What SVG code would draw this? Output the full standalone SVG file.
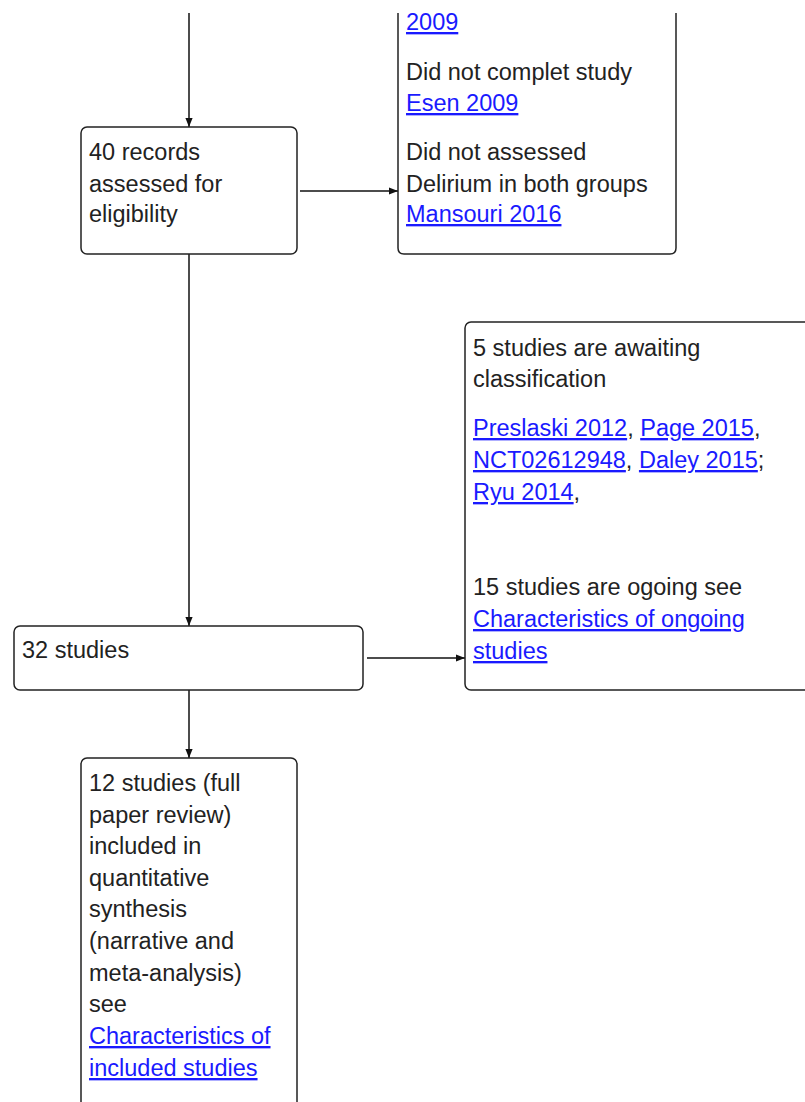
<svg xmlns="http://www.w3.org/2000/svg" width="805" height="1102" viewBox="0 0 805 1102">
<defs>
<style>
.box{fill:#fff;stroke:#222;stroke-width:1.5}
.t{font-family:"Liberation Sans",Arial,sans-serif;font-size:23.5px;fill:#222}
.l{fill:#1a1aff;text-decoration:underline}
.c{stroke:#111;stroke-width:1.5;fill:none}
</style>
<marker id="ah" viewBox="0 0 10 10" refX="10" refY="5" markerWidth="9" markerHeight="9" markerUnits="userSpaceOnUse" orient="auto">
<path d="M0,1 L10,5 L0,9 z" fill="#111"/>
</marker>
</defs>
<rect width="805" height="1102" fill="#fff"/>
<g id="connectors">
<line class="c" x1="189" y1="13" x2="189" y2="127" marker-end="url(#ah)"/>
<line class="c" x1="300" y1="191" x2="398" y2="191" marker-end="url(#ah)"/>
<line class="c" x1="189" y1="254" x2="189" y2="626" marker-end="url(#ah)"/>
<line class="c" x1="367" y1="658" x2="465" y2="658" marker-end="url(#ah)"/>
<line class="c" x1="189" y1="690" x2="189" y2="758" marker-end="url(#ah)"/>
</g>
<g id="excluded">
<path class="box" d="M398,13 L398,248 Q398,254 404,254 L670,254 Q676,254 676,248 L676,13"/>
<text class="t" x="406"><tspan class="l" y="30">2009</tspan><tspan x="406" y="80">Did not complet study</tspan><tspan class="l" x="406" y="111">Esen 2009</tspan><tspan x="406" y="160">Did not assessed</tspan><tspan x="406" y="192">Delirium in both groups</tspan><tspan class="l" x="406" y="222">Mansouri 2016</tspan></text>
</g>
<g id="assessed">
<rect class="box" x="81" y="127" width="216" height="127" rx="6"/>
<text class="t" x="89"><tspan y="160">40 records</tspan><tspan x="89" y="192">assessed for</tspan><tspan x="89" y="222">eligibility</tspan></text>
</g>
<g id="awaiting">
<rect class="box" x="465" y="322" width="360" height="368" rx="6"/>
<text class="t" x="473"><tspan y="356">5 studies are awaiting</tspan><tspan x="473" y="387">classification</tspan></text>
<text class="t" x="473" y="436"><tspan class="l">Preslaski 2012</tspan>, <tspan class="l">Page 2015</tspan>,</text>
<text class="t" x="473" y="468"><tspan class="l">NCT02612948</tspan>, <tspan class="l">Daley 2015</tspan>;</text>
<text class="t" x="473" y="500"><tspan class="l">Ryu 2014</tspan>,</text>
<text class="t" x="473"><tspan y="595">15 studies are ogoing see</tspan><tspan class="l" x="473" y="627">Characteristics of ongoing</tspan><tspan class="l" x="473" y="659">studies</tspan></text>
</g>
<g id="studies32">
<rect class="box" x="14" y="626" width="349" height="64" rx="6"/>
<text class="t" x="22" y="658">32 studies</text>
</g>
<g id="included">
<rect class="box" x="81" y="758" width="216" height="370" rx="6"/>
<text class="t" x="89"><tspan y="791">12 studies (full</tspan><tspan x="89" y="823">paper review)</tspan><tspan x="89" y="854">included in</tspan><tspan x="89" y="886">quantitative</tspan><tspan x="89" y="917">synthesis</tspan><tspan x="89" y="949">(narrative and</tspan><tspan x="89" y="981">meta-analysis)</tspan><tspan x="89" y="1012">see</tspan><tspan class="l" x="89" y="1044">Characteristics of</tspan><tspan class="l" x="89" y="1076">included studies</tspan></text>
</g>
</svg>
